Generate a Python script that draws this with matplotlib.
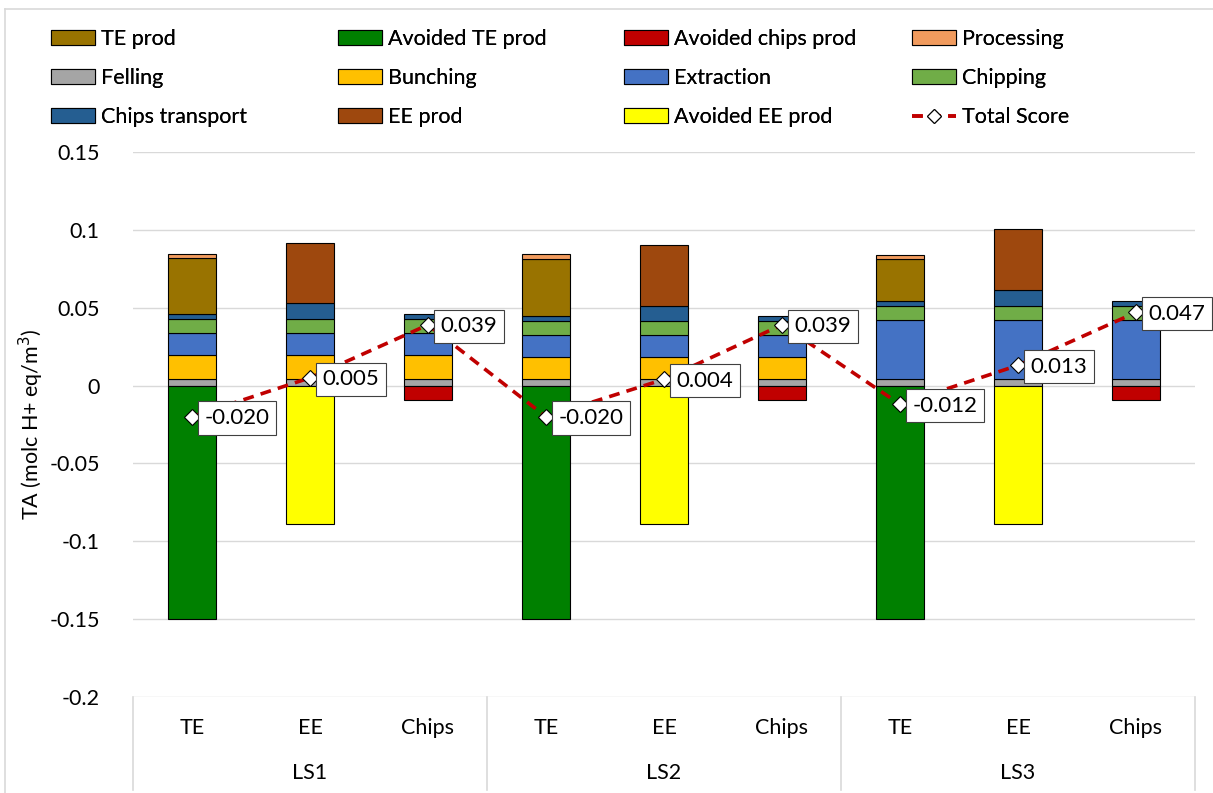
import numpy as np
import matplotlib
matplotlib.use("Agg")
import matplotlib.pyplot as plt
from matplotlib.patches import Patch
from matplotlib.lines import Line2D

# ------------------ Data ------------------
categories = ["TE", "EE", "Chips", "TE", "EE", "Chips", "TE", "EE", "Chips"]
groups = ["LS1", "LS2", "LS3"]

felling = [0.004, 0.004, 0.004, 0.004, 0.004, 0.004, 0.004, 0.004, 0.004]
bunching = [0.0155, 0.0155, 0.0155, 0.0145, 0.0145, 0.0145, 0.0, 0.0, 0.0]
extraction = [0.014, 0.014, 0.014, 0.014, 0.014, 0.014, 0.0384, 0.0384, 0.0384]
chipping = [0.009, 0.009, 0.009, 0.0088, 0.0088, 0.0088, 0.0088, 0.0088, 0.0088]
chips_transport = [0.0034, 0.0105, 0.0035, 0.0032, 0.0101, 0.0033, 0.0034, 0.0101, 0.0032]
te_prod = [0.0358, 0.0, 0.0, 0.0369, 0.0, 0.0, 0.027, 0.0, 0.0]
ee_prod = [0.0, 0.0388, 0.0, 0.0, 0.039, 0.0, 0.0, 0.0393, 0.0]
processing = [0.0028, 0.0, 0.0, 0.0032, 0.0, 0.0, 0.0024, 0.0, 0.0]

avoided_te_prod = [-0.15, 0.0, 0.0, -0.15, 0.0, 0.0, -0.15, 0.0, 0.0]
avoided_ee_prod = [0.0, -0.089, 0.0, 0.0, -0.089, 0.0, 0.0, -0.089, 0.0]
avoided_chips_prod = [0.0, 0.0, -0.0095, 0.0, 0.0, -0.0095, 0.0, 0.0, -0.0095]

total_score = [-0.020, 0.005, 0.039, -0.020, 0.004, 0.039, -0.012, 0.013, 0.047]

COLORS = {
    "TE prod": "#997300",
    "Avoided TE prod": "#008000",
    "Avoided chips prod": "#C00000",
    "Processing": "#F19B5E",
    "Felling": "#A5A5A5",
    "Bunching": "#FFC000",
    "Extraction": "#4472C4",
    "Chipping": "#70AD47",
    "Chips transport": "#255E91",
    "EE prod": "#9E480E",
    "Avoided EE prod": "#FFFF00",
}
LINE_RED = "#C00000"
FONT = "Lato"
FS = 15.5        # axis text
FS_LEG = 15.5    # legend text
FS_LAB = 16      # data labels


def draw_stack(ax, x, series, width):
    """Stack positive series from 0 upward, skipping empty cells"""
    bottom = np.zeros(len(x))
    for name, vals in series:
        vals = np.array(vals)
        mask = vals != 0
        ax.bar(x[mask], vals[mask], width, bottom=bottom[mask], color=COLORS[name],
               edgecolor="black", linewidth=0.8, zorder=3)
        bottom = bottom + vals


def draw_negatives(ax, x, series, width):
    for name, vals in series:
        vals = np.array(vals)
        mask = vals != 0
        ax.bar(x[mask], vals[mask], width, color=COLORS[name],
               edgecolor="black", linewidth=0.8, zorder=3)


def main():
    plt.rcParams["font.family"] = [FONT, "DejaVu Sans"]
    W, H = 1213, 793
    fig = plt.figure(figsize=(W / 100, H / 100), dpi=100)

    # plot area in pixels
    left, right, top, bottom = 133, 1195, 152, 697
    ax = fig.add_axes([left / W, (H - bottom) / H, (right - left) / W, (bottom - top) / H])

    x = np.arange(len(categories))
    width = 0.4

    draw_stack(ax, x, [("Felling", felling), ("Bunching", bunching),
                       ("Extraction", extraction), ("Chipping", chipping),
                       ("Chips transport", chips_transport), ("TE prod", te_prod),
                       ("EE prod", ee_prod), ("Processing", processing)], width)
    draw_negatives(ax, x, [("Avoided TE prod", avoided_te_prod),
                           ("Avoided EE prod", avoided_ee_prod),
                           ("Avoided chips prod", avoided_chips_prod)], width)

    # total score line + labels
    ax.plot(x, total_score, color=LINE_RED, lw=2.6, linestyle=(0, (3, 2)),
            marker="D", markersize=8, markerfacecolor="white",
            markeredgecolor="black", markeredgewidth=0.8, zorder=5)
    for xi, v in zip(x, total_score):
        ax.annotate(f"{v:.3f}", (xi, v), xytext=(9, -1), textcoords="offset points",
                    ha="left", va="center", fontsize=FS_LAB, zorder=6,
                    bbox=dict(boxstyle="square,pad=0.3", fc="white", ec="#404040", lw=0.8))

    # axes cosmetics
    ax.set_xlim(-0.5, len(categories) - 0.5)
    ax.set_ylim(-0.2, 0.15)
    ax.set_yticks([-0.2, -0.15, -0.1, -0.05, 0, 0.05, 0.1, 0.15])
    ax.set_yticklabels(["-0.2", "-0.15", "-0.1", "-0.05", "0", "0.05", "0.1", "0.15"])
    ax.tick_params(axis="y", length=0, labelsize=FS, pad=24)
    ax.grid(axis="y", color="#D9D9D9", lw=1, zorder=0)
    for s in ax.spines.values():
        s.set_visible(False)
    ax.set_xticks([])
    ax.set_ylabel("TA (molc H+ eq/m$^3$)", fontsize=FS, labelpad=10)
    ax.yaxis.set_label_coords(-0.082, 0.5)

    # two-level category axis
    trans = ax.get_xaxis_transform()
    for xi, lab in zip(x, categories):
        ax.text(xi, -0.057, lab, transform=trans, ha="center", va="center", fontsize=FS)
    for gi, g in enumerate(groups):
        ax.text(gi * 3 + 1, -0.139, g, transform=trans, ha="center", va="center", fontsize=FS)
    for xs in [-0.5, 2.5, 5.5, 8.5]:
        ax.plot([xs, xs], [0, -0.171], transform=trans, color="#D9D9D9", lw=1.2, clip_on=False)

    # legend: 4 columns, placed one by one to get even spacing
    def patch(name):
        return Patch(facecolor=COLORS[name], edgecolor="black", linewidth=0.8)
    total_handle = Line2D([], [], color=LINE_RED, lw=2.6, linestyle=(0, (3, 2)), marker="D",
                          markersize=7.5, markerfacecolor="white", markeredgecolor="black",
                          markeredgewidth=0.8)
    columns = [
        [("TE prod", patch("TE prod")), ("Felling", patch("Felling")),
         ("Chips transport", patch("Chips transport"))],
        [("Avoided TE prod", patch("Avoided TE prod")), ("Bunching", patch("Bunching")),
         ("EE prod", patch("EE prod"))],
        [("Avoided chips prod", patch("Avoided chips prod")), ("Extraction", patch("Extraction")),
         ("Avoided EE prod", patch("Avoided EE prod"))],
        [("Processing", patch("Processing")), ("Chipping", patch("Chipping")),
         ("Total Score", total_handle)],
    ]
    col_x = [51, 338, 624, 912]
    for cx, col in zip(col_x, columns):
        leg = fig.legend([h for _, h in col], [l for l, _ in col], loc="upper left",
                         bbox_to_anchor=(cx / W, 1 - 29 / H), frameon=False, fontsize=FS_LEG,
                         handlelength=2.05, handleheight=0.65, handletextpad=0.25,
                         labelspacing=0.88, borderaxespad=0, borderpad=0)
        fig.add_artist(leg)

    # chart area border (top and left edges)
    fig.add_artist(Line2D([5 / W, 1], [1 - 9 / H, 1 - 9 / H], color="#D9D9D9", lw=1.2))
    fig.add_artist(Line2D([5 / W, 5 / W], [0, 1 - 9 / H], color="#D9D9D9", lw=1.2))

    fig.savefig("out.png", dpi=100, facecolor="white")
    plt.close(fig)


if __name__ == "__main__":
    main()
